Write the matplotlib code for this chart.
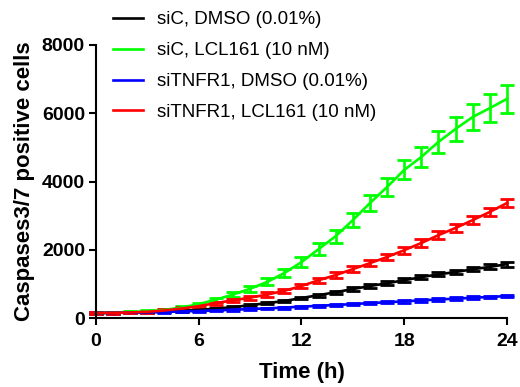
import matplotlib
matplotlib.use("Agg")
import matplotlib.pyplot as plt
import numpy as np

plt.rcParams['font.family'] = ['Liberation Sans', 'DejaVu Sans']

hours = list(range(25))

siC_dmso = [150, 155, 165, 175, 190, 210, 240, 280, 320, 380, 440, 500, 590,
            670, 760, 850, 940, 1020, 1110, 1200, 1280, 1350, 1430, 1500, 1580]
siC_dmso_err = [20, 20, 20, 20, 25, 25, 25, 30, 30, 35, 35, 40, 40,
                45, 45, 50, 50, 55, 55, 60, 60, 65, 65, 70, 70]

siC_lcl = [150, 160, 175, 200, 240, 310, 410, 540, 690, 860, 1060, 1320, 1640,
           2020, 2400, 2870, 3370, 3840, 4340, 4720, 5160, 5540, 5890, 6150, 6420]
siC_lcl_err = [20, 20, 25, 25, 30, 35, 45, 55, 70, 85, 100, 120, 140,
               170, 190, 210, 230, 250, 280, 300, 330, 350, 370, 400, 420]

siTNFR1_dmso = [150, 155, 160, 170, 180, 195, 210, 225, 245, 265, 285, 310, 335,
                360, 385, 410, 440, 465, 490, 520, 545, 570, 595, 620, 645]
siTNFR1_dmso_err = [20, 20, 20, 20, 20, 20, 25, 25, 25, 25, 25, 30, 30,
                    30, 30, 30, 35, 35, 35, 35, 35, 40, 40, 40, 40]

siTNFR1_lcl = [150, 155, 165, 185, 225, 280, 350, 440, 520, 600, 690, 800, 940,
               1110, 1260, 1435, 1610, 1790, 1990, 2200, 2430, 2640, 2870, 3110, 3370]
siTNFR1_lcl_err = [20, 20, 20, 25, 30, 35, 40, 45, 50, 55, 60, 65, 70,
                   75, 80, 85, 90, 95, 100, 105, 110, 115, 120, 125, 130]

labels = ['siC, DMSO (0.01%)', 'siC, LCL161 (10 nM)',
          'siTNFR1, DMSO (0.01%)', 'siTNFR1, LCL161 (10 nM)']
colors = ['#000000', '#00ff00', '#0000ff', '#ff0000']

fig = plt.figure(figsize=(5.2, 3.87), dpi=100)
ax = fig.add_axes([0.1846, 0.178, 0.7904, 0.706])

series = [(siC_dmso, siC_dmso_err), (siC_lcl, siC_lcl_err),
          (siTNFR1_dmso, siTNFR1_dmso_err), (siTNFR1_lcl, siTNFR1_lcl_err)]
handles = []
for (vals, errs), c, lab in zip(series, colors, labels):
    ax.errorbar(hours, vals, yerr=errs, color=c, lw=1.9, elinewidth=1.9,
                capsize=5, capthick=2.0, label=lab, clip_on=False)
    handles.append(plt.Line2D([], [], color=c, lw=1.9))

ax.set_xlim(0, 24)
ax.set_ylim(0, 8000)
ax.set_xticks([0, 6, 12, 18, 24])
ax.set_yticks([0, 2000, 4000, 6000, 8000])
for s in ['top', 'right']:
    ax.spines[s].set_visible(False)
for s in ['left', 'bottom']:
    ax.spines[s].set_linewidth(1.5)
ax.tick_params(width=1.5, length=5, labelsize=14, direction='out')
ax.tick_params(axis='x', pad=6)
ax.tick_params(axis='y', pad=3)
for t in ax.get_xticklabels() + ax.get_yticklabels():
    t.set_fontweight('bold')

ax.set_xlabel('Time (h)', fontsize=16, fontweight='bold', labelpad=8)
ax.set_ylabel('Caspases3/7 positive cells', fontsize=16, fontweight='bold', labelpad=5)

fig.legend(handles, labels, loc='upper left', bbox_to_anchor=(0.203, 0.99),
           frameon=False, fontsize=13.5, handlelength=1.6, handletextpad=0.75,
           labelspacing=0.73, borderaxespad=0.0)

fig.savefig('out.png', dpi=100)
